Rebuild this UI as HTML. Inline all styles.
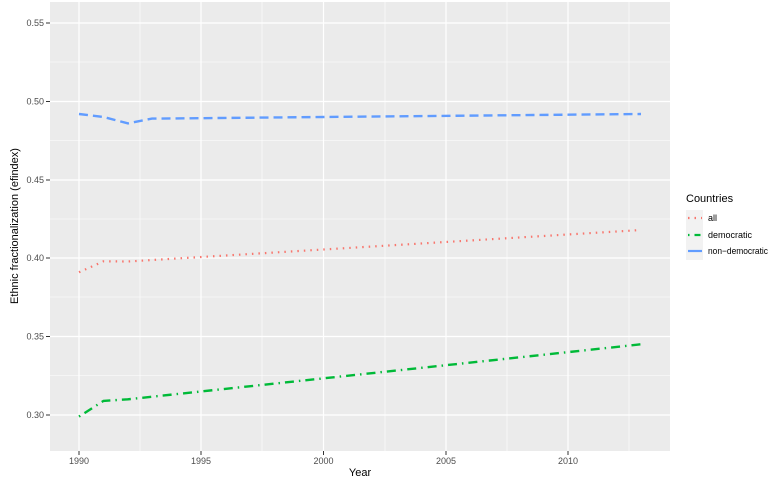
<!DOCTYPE html>
<html><head><style>body{margin:0;background:#fff}</style></head><body>
<svg width="770" height="484" xmlns="http://www.w3.org/2000/svg" font-family="Liberation Sans, sans-serif">
<rect x="50" y="2" width="620" height="449" fill="#EBEBEB"/>
<g stroke="#fff" stroke-width="0.6">
<line x1="50" x2="670" y1="62" y2="62"/><line x1="50" x2="670" y1="140.5" y2="140.5"/><line x1="50" x2="670" y1="219" y2="219"/><line x1="50" x2="670" y1="297" y2="297"/><line x1="50" x2="670" y1="375.5" y2="375.5"/>
<line y1="2" y2="451" x1="140" x2="140"/><line y1="2" y2="451" x1="262" x2="262"/><line y1="2" y2="451" x1="385" x2="385"/><line y1="2" y2="451" x1="507" x2="507"/><line y1="2" y2="451" x1="629" x2="629"/>
</g>
<g stroke="#fff" stroke-width="1.2">
<line x1="50" x2="670" y1="23" y2="23"/><line x1="50" x2="670" y1="101.5" y2="101.5"/><line x1="50" x2="670" y1="180" y2="180"/><line x1="50" x2="670" y1="258" y2="258"/><line x1="50" x2="670" y1="336.5" y2="336.5"/><line x1="50" x2="670" y1="415" y2="415"/>
<line y1="2" y2="451" x1="79" x2="79"/><line y1="2" y2="451" x1="201" x2="201"/><line y1="2" y2="451" x1="323.5" x2="323.5"/><line y1="2" y2="451" x1="446" x2="446"/><line y1="2" y2="451" x1="568" x2="568"/>
</g>
<g stroke="#333" stroke-width="1">
<line x1="46" x2="50" y1="23" y2="23"/><line x1="46" x2="50" y1="101.5" y2="101.5"/><line x1="46" x2="50" y1="180" y2="180"/><line x1="46" x2="50" y1="258" y2="258"/><line x1="46" x2="50" y1="336.5" y2="336.5"/><line x1="46" x2="50" y1="415" y2="415"/>
<line y1="451" y2="455" x1="79" x2="79"/><line y1="451" y2="455" x1="201" x2="201"/><line y1="451" y2="455" x1="323.5" x2="323.5"/><line y1="451" y2="455" x1="446" x2="446"/><line y1="451" y2="455" x1="568" x2="568"/>
</g>
<g font-size="9" fill="#4D4D4D" text-anchor="end">
<text x="44" y="26">0.55</text><text x="44" y="104.5">0.50</text><text x="44" y="183">0.45</text><text x="44" y="261">0.40</text><text x="44" y="339.5">0.35</text><text x="44" y="418">0.30</text>
</g>
<g font-size="9" fill="#4D4D4D" text-anchor="middle">
<text x="79" y="464">1990</text><text x="201" y="464">1995</text><text x="323.5" y="464">2000</text><text x="446" y="464">2005</text><text x="568" y="464">2010</text>
</g>
<text x="360" y="476" font-size="11" text-anchor="middle">Year</text>
<text transform="translate(18,226) rotate(-90)" font-size="11" text-anchor="middle">Ethnic fractionalization (efindex)</text>
<polyline fill="none" stroke="#619CFF" stroke-width="2.4" stroke-dasharray="9,5" points="79,114 103.5,117 128,123.4 152,118.6 176,118.4 641,114"/>
<polyline fill="none" stroke="#F8766D" stroke-width="2.2" stroke-dasharray="1.5,5" points="79,272.3 103.5,261.3 128,261.5 641,230"/>
<polyline fill="none" stroke="#00BA38" stroke-width="2.4" stroke-dasharray="1.5,5,9,5" points="79,416.6 103.5,400.9 128,399.3 641,344.3"/>
<text x="686" y="202" font-size="11">Countries</text>
<rect x="686" y="210" width="17" height="50" fill="#F2F2F2"/>
<line x1="688" x2="702" y1="218" y2="218" stroke="#F8766D" stroke-width="2.2" stroke-dasharray="1.5,5"/>
<line x1="688" x2="702" y1="235" y2="235" stroke="#00BA38" stroke-width="2.2" stroke-dasharray="1.5,5,6,5"/>
<line x1="688" x2="702" y1="251" y2="251" stroke="#619CFF" stroke-width="2.2"/>
<g font-size="9" fill="#000"><text x="708" y="221">all</text><text x="708" y="238">democratic</text><text x="708" y="254" textLength="60" lengthAdjust="spacingAndGlyphs">non−democratic</text></g>
</svg>
</body></html>
